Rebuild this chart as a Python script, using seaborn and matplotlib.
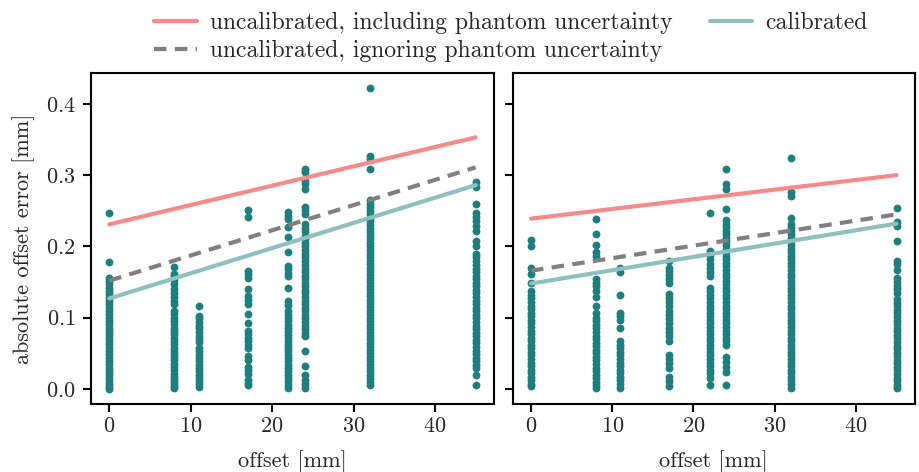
import matplotlib
matplotlib.use("Agg")
import matplotlib.pyplot as plt
import seaborn as sns
import pandas as pd
from matplotlib.lines import Line2D

# ---------------- data ----------------
offsets = [0, 8, 11, 17, 22, 24, 32, 45]

# left panel: absolute offset errors per offset
left_0 = [0.247, 0.178, 0.156, 0.151, 0.147, 0.142, 0.137, 0.133, 0.128, 0.123, 0.119, 0.114,
          0.109, 0.105, 0.1, 0.095, 0.091, 0.086, 0.081, 0.077, 0.072, 0.067, 0.063, 0.058,
          0.053, 0.049, 0.044, 0.039, 0.035, 0.03, 0.025, 0.021, 0.016, 0.011, 0.007, 0.003, 0.0]
left_8 = [0.171, 0.162, 0.158, 0.153, 0.147, 0.14, 0.134, 0.129, 0.124, 0.119,
          0.109, 0.105, 0.1, 0.096, 0.091, 0.086, 0.082, 0.077, 0.072, 0.068, 0.063, 0.058,
          0.054, 0.049, 0.045, 0.04, 0.035, 0.031, 0.026, 0.021, 0.017, 0.012, 0.008, 0.004, 0.001]
left_11 = [0.117, 0.103, 0.099, 0.094, 0.089, 0.085, 0.08, 0.075, 0.07, 0.066,
           0.057, 0.053, 0.048, 0.044, 0.039, 0.034, 0.03, 0.025, 0.02, 0.016, 0.011, 0.007, 0.003]
left_17 = [0.251, 0.241, 0.166, 0.161, 0.156, 0.14, 0.131, 0.125, 0.119, 0.105, 0.093,
           0.082, 0.077, 0.072, 0.067, 0.062, 0.057, 0.046, 0.04, 0.031, 0.026, 0.021,
           0.013, 0.009, 0.005]
left_22 = [0.248, 0.243, 0.238, 0.227, 0.213, 0.192, 0.173, 0.168, 0.163, 0.158, 0.142,
           0.123, 0.118, 0.109, 0.104, 0.1, 0.095, 0.09, 0.086, 0.081, 0.076, 0.072, 0.067,
           0.062, 0.058, 0.053, 0.048, 0.044, 0.039, 0.034, 0.03, 0.025, 0.02, 0.016, 0.011,
           0.006, 0.002]
left_24 = [0.309, 0.304, 0.292, 0.287, 0.281, 0.256, 0.251, 0.246, 0.231, 0.226, 0.221,
           0.215, 0.21, 0.205, 0.2, 0.195, 0.19, 0.185, 0.179, 0.174, 0.169, 0.164, 0.159,
           0.154, 0.149, 0.144, 0.139, 0.134, 0.129, 0.124, 0.119, 0.114, 0.109, 0.104, 0.099,
           0.094, 0.089, 0.084, 0.079, 0.074, 0.053, 0.032, 0.019, 0.013, 0.007, 0.001]
left_32 = [0.422, 0.327, 0.322, 0.309, 0.265, 0.26, 0.255, 0.25, 0.245, 0.24, 0.235, 0.23,
           0.225, 0.22, 0.215, 0.21, 0.205, 0.2, 0.195, 0.19, 0.185, 0.18, 0.175, 0.17, 0.165,
           0.16, 0.155, 0.15, 0.145, 0.14, 0.135, 0.13, 0.125, 0.12, 0.115, 0.11, 0.105, 0.1,
           0.095, 0.09, 0.085, 0.08, 0.075, 0.07, 0.065, 0.06, 0.055, 0.05, 0.045, 0.04, 0.035,
           0.03, 0.025, 0.02, 0.015, 0.01, 0.005]
left_45 = [0.29, 0.284, 0.26, 0.247, 0.241, 0.235, 0.228, 0.221, 0.208, 0.2, 0.19, 0.185,
           0.179, 0.174, 0.169, 0.164, 0.159, 0.154, 0.149, 0.144, 0.139, 0.134, 0.129, 0.124,
           0.119, 0.114, 0.109, 0.104, 0.099, 0.094, 0.089, 0.084, 0.079, 0.074, 0.069, 0.064,
           0.059, 0.054, 0.049, 0.044, 0.039, 0.034, 0.029, 0.02, 0.006]

# right panel
right_0 = [0.209, 0.2, 0.17, 0.161, 0.149, 0.137, 0.132, 0.127, 0.122, 0.117, 0.112, 0.107,
           0.102, 0.097, 0.092, 0.087, 0.082, 0.077, 0.072, 0.067, 0.062, 0.057, 0.052,
           0.047, 0.042, 0.037, 0.032, 0.027, 0.022, 0.017, 0.012, 0.007, 0.004]
right_8 = [0.239, 0.218, 0.202, 0.192, 0.186, 0.154, 0.149, 0.144, 0.138, 0.129, 0.116,
           0.107, 0.1, 0.095, 0.09, 0.085, 0.08, 0.075, 0.07, 0.065, 0.06, 0.055, 0.05, 0.045,
           0.04, 0.035, 0.03, 0.025, 0.02, 0.015, 0.01, 0.005, 0.001]
right_11 = [0.17, 0.164, 0.132, 0.107, 0.102, 0.097, 0.086, 0.067, 0.062, 0.057, 0.052,
            0.047, 0.042, 0.037, 0.032, 0.027, 0.022, 0.017, 0.012, 0.007, 0.002]
right_17 = [0.18, 0.17, 0.165, 0.16, 0.155, 0.149, 0.133, 0.128, 0.122, 0.116, 0.11, 0.104,
            0.098, 0.092, 0.086, 0.08, 0.074, 0.068, 0.048, 0.042, 0.036, 0.03, 0.017,
            0.011, 0.004]
right_22 = [0.247, 0.194, 0.188, 0.182, 0.176, 0.17, 0.164, 0.159, 0.142, 0.137, 0.132,
            0.127, 0.122, 0.117, 0.112, 0.107, 0.102, 0.097, 0.092, 0.087, 0.082, 0.077,
            0.072, 0.067, 0.062, 0.057, 0.052, 0.047, 0.042, 0.037, 0.032, 0.027, 0.022,
            0.016, 0.005]
right_24 = [0.309, 0.287, 0.28, 0.253, 0.237, 0.232, 0.227, 0.222, 0.217, 0.212, 0.207,
            0.202, 0.197, 0.192, 0.187, 0.182, 0.177, 0.172, 0.167, 0.162, 0.157, 0.152,
            0.147, 0.142, 0.137, 0.132, 0.127, 0.122, 0.117, 0.112, 0.107, 0.102, 0.097,
            0.092, 0.087, 0.082, 0.077, 0.072, 0.067, 0.062, 0.045, 0.038, 0.031, 0.024, 0.005]
right_32 = [0.324, 0.277, 0.271, 0.24, 0.232, 0.227, 0.222, 0.217, 0.212, 0.207, 0.202,
            0.197, 0.192, 0.187, 0.182, 0.177, 0.172, 0.167, 0.162, 0.157, 0.152, 0.147,
            0.142, 0.137, 0.132, 0.127, 0.122, 0.117, 0.112, 0.107, 0.102, 0.097, 0.092,
            0.087, 0.082, 0.077, 0.072, 0.067, 0.062, 0.057, 0.052, 0.047, 0.042, 0.037,
            0.032, 0.027, 0.022, 0.017, 0.012, 0.007, 0.002]
right_45 = [0.254, 0.234, 0.228, 0.207, 0.18, 0.175, 0.167, 0.156, 0.15, 0.145, 0.14, 0.135,
            0.126, 0.121, 0.116, 0.111, 0.106, 0.101, 0.096, 0.091, 0.086, 0.081, 0.076,
            0.071, 0.066, 0.061, 0.056, 0.051, 0.046, 0.041, 0.036, 0.031, 0.026, 0.021,
            0.016, 0.011, 0.006, 0.001]

# fitted lines (value at offset 0 and offset 45)
line_x = [0, 45]
left_incl = [0.231, 0.353]
left_ign = [0.152, 0.311]
left_cal = [0.127, 0.286]
right_incl = [0.239, 0.300]
right_ign = [0.166, 0.245]
right_cal = [0.148, 0.232]

labels = ["uncalibrated, including phantom uncertainty",
          "uncalibrated, ignoring phantom uncertainty",
          "calibrated"]

# ---------------- style ----------------
sns.set_style("ticks")
plt.rcParams["font.family"] = ["cmr10", "DejaVu Serif"]
plt.rcParams["mathtext.fontset"] = "cm"
plt.rcParams["axes.formatter.use_mathtext"] = True
plt.rcParams["axes.unicode_minus"] = False
plt.rcParams["font.size"] = 16
plt.rcParams["axes.linewidth"] = 1.5
plt.rcParams["axes.edgecolor"] = "black"

point_color = "#1f7f7f"
red_color = "#f78a8a"
grey_color = "#808080"
cal_color = "#8fbfbf"

def frame(values_lists):
    rows = []
    for off, vals in zip(offsets, values_lists):
        for v in vals:
            rows.append({"offset": off, "error": v})
    return pd.DataFrame(rows)

left_df = frame([left_0, left_8, left_11, left_17, left_22, left_24, left_32, left_45])
right_df = frame([right_0, right_8, right_11, right_17, right_22, right_24, right_32, right_45])

fig = plt.figure(figsize=(9.19, 4.72), dpi=100)
ax1 = fig.add_axes([0.099, 0.144, 0.4385, 0.701])
ax2 = fig.add_axes([0.558, 0.144, 0.4374, 0.701], sharey=ax1)

for ax, df, incl, ign, cal in [(ax1, left_df, left_incl, left_ign, left_cal),
                               (ax2, right_df, right_incl, right_ign, right_cal)]:
    sns.scatterplot(data=df, x="offset", y="error", ax=ax, color=point_color,
                    s=32, linewidth=0, zorder=2)
    sns.lineplot(x=line_x, y=incl, ax=ax, color=red_color, linewidth=3, zorder=3)
    sns.lineplot(x=line_x, y=ign, ax=ax, color=grey_color, linewidth=3,
                 linestyle=(0, (3, 2)), zorder=3)
    sns.lineplot(x=line_x, y=cal, ax=ax, color=cal_color, linewidth=3, zorder=3)
    ax.set_xlabel("offset [mm]", labelpad=10)
    ax.set_xticks([0, 10, 20, 30, 40])
    ax.tick_params(axis="both", direction="out", length=6, width=1.5, labelsize=16,
                   color="black")
    ax.tick_params(axis="x", pad=3)
    ax.tick_params(axis="y", pad=5)
    for sp in ax.spines.values():
        sp.set_linewidth(1.5)
        sp.set_color("black")

ax1.set_ylabel("absolute offset error [mm]", labelpad=8)
ax1.set_yticks([0.0, 0.1, 0.2, 0.3, 0.4])
ax2.set_ylabel("")
ax2.tick_params(axis="y", labelleft=False)

handles = [Line2D([], [], color=red_color, linewidth=3),
           Line2D([], [], color=grey_color, linewidth=3, linestyle=(0, (3, 2))),
           Line2D([], [], color=cal_color, linewidth=3)]
fig.legend(handles, labels, loc="upper center", bbox_to_anchor=(0.556, 1.02), ncol=2,
           frameon=False, fontsize=17, handlelength=1.8, columnspacing=1.6,
           labelspacing=0.25, handletextpad=0.55)

fig.savefig("out.png", dpi=100)
